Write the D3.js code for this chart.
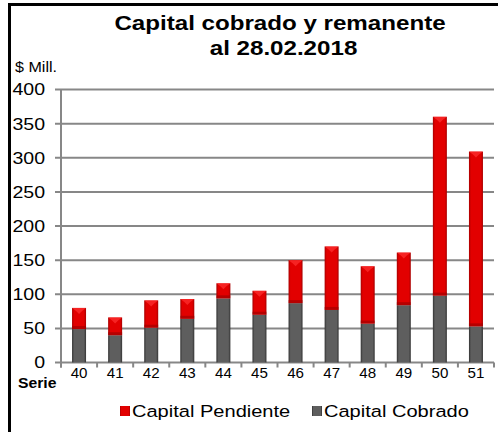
<!DOCTYPE html>
<html>
<head>
<meta charset="utf-8">
<script src="https://cdn.jsdelivr.net/npm/d3@7"></script>
<style>
  body { margin: 0; background: #fff; }
  svg { display: block; font-family: Arial, "Liberation Sans", sans-serif; }
</style>
</head>
<body>
<svg id="chart" width="498" height="432"></svg>
<script>
// Series 40..51, values in $ millions
const series = ["40", "41", "42", "43", "44", "45", "46", "47", "48", "49", "50", "51"];
const cobrado = [49, 40, 51, 64, 94, 70, 87, 77, 57, 84, 98, 53];
const pendiente = [31, 26, 40, 29, 22, 35, 63, 93, 84, 77, 262, 256];
const yTicks = [0, 50, 100, 150, 200, 250, 300, 350, 400];
const legendLabels = ["Capital Pendiente", "Capital Cobrado"];

const svg = d3.select("#chart");
const plotLeft = 61, plotRight = 494, plotTop = 89.5, plotBottom = 362.5;
const sx = 1.15; // the original text looks a bit wider than tall

// text placed at (x, y) and stretched horizontally
function label(parent, x, y, txt, size, opts = {}) {
  return parent.append("text")
    .attr("transform", `translate(${x},${y}) scale(${opts.sx || sx},1)`)
    .attr("text-anchor", opts.anchor || "start")
    .attr("font-size", size)
    .attr("font-weight", opts.bold ? "bold" : "normal")
    .text(txt);
}

// outer frame (only top and left edges visible)
svg.append("rect")
  .attr("x", 9.5).attr("y", 4.5)
  .attr("width", 600).attr("height", 600)
  .attr("fill", "none").attr("stroke", "#000").attr("stroke-width", 3);

// gradients for the bevelled bars
const defs = svg.append("defs");
function barGradient(id, edge, mid) {
  const g = defs.append("linearGradient").attr("id", id)
    .attr("x1", "0%").attr("x2", "100%").attr("y1", "0%").attr("y2", "0%");
  g.append("stop").attr("offset", "0%").attr("stop-color", edge);
  g.append("stop").attr("offset", "15%").attr("stop-color", mid);
  g.append("stop").attr("offset", "85%").attr("stop-color", mid);
  g.append("stop").attr("offset", "100%").attr("stop-color", edge);
}
barGradient("gradRed", "#a80000", "#e20000");
barGradient("gradGray", "#333333", "#5e5e5e");

// Title
label(svg, 280, 30, "Capital cobrado y remanente", 21, { anchor: "middle", bold: true });
label(svg, 283.5, 55, "al 28.02.2018", 21, { anchor: "middle", bold: true });
label(svg, 15, 72, "$ Mill.", 14);

// scales
const x = d3.scaleBand().domain(series).range([plotLeft, plotRight]).padding(0);
const y = d3.scaleLinear().domain([0, 400]).range([plotBottom, plotTop]);

// gridlines
svg.append("g")
  .selectAll("line")
  .data(yTicks)
  .join("line")
  .attr("x1", plotLeft - 6).attr("x2", plotRight)
  .attr("y1", d => y(d)).attr("y2", d => y(d))
  .attr("stroke", "#878787").attr("stroke-width", 2);

// y axis labels
const yAxis = d3.axisLeft(y).tickValues(yTicks).tickSize(0).tickPadding(0);
svg.append("g")
  .attr("transform", `translate(${plotLeft - 16},0)`)
  .call(yAxis)
  .call(g => g.select(".domain").remove())
  .selectAll("text")
  .attr("x", 0)
  .attr("transform", `scale(${sx},1)`)
  .attr("font-size", 17).attr("fill", "#000")
  .attr("font-family", "Arial, 'Liberation Sans', sans-serif");

// vertical axis line
svg.append("line")
  .attr("x1", plotLeft).attr("x2", plotLeft)
  .attr("y1", plotTop).attr("y2", plotBottom + 5)
  .attr("stroke", "#878787").attr("stroke-width", 2);

// x axis ticks at band edges
const edges = series.map(s => x(s)).concat([plotRight]);
svg.append("g")
  .selectAll("line")
  .data(edges)
  .join("line")
  .attr("x1", d => d).attr("x2", d => d)
  .attr("y1", plotBottom).attr("y2", plotBottom + 5)
  .attr("stroke", "#878787").attr("stroke-width", 2);

// x labels
const xAxis = d3.axisBottom(x).tickSize(0).tickPadding(0);
svg.append("g")
  .attr("transform", `translate(0,${plotBottom + 3})`)
  .call(xAxis)
  .call(g => g.select(".domain").remove())
  .selectAll("text")
  .attr("transform", "scale(1.08,1)")
  .attr("font-size", 14).attr("fill", "#000").attr("dy", "0.9em")
  .attr("font-family", "Arial, 'Liberation Sans', sans-serif");

label(svg, 18, 388, "Serie", 15, { bold: true, sx: 1.05 });

// stacked bars
const barW = 14;
const data = series.map((s, i) => ({ s, c: cobrado[i], p: pendiente[i] }));
const bars = svg.append("g");

bars.selectAll("rect.cob")
  .data(data)
  .join("rect")
  .attr("class", "cob")
  .attr("x", d => x(d.s) + x.bandwidth() / 2 - barW / 2)
  .attr("width", barW)
  .attr("y", d => y(d.c))
  .attr("height", d => y(0) - y(d.c))
  .attr("fill", "url(#gradGray)");

bars.selectAll("rect.pen")
  .data(data)
  .join("rect")
  .attr("class", "pen")
  .attr("x", d => x(d.s) + x.bandwidth() / 2 - barW / 2)
  .attr("width", barW)
  .attr("y", d => y(d.c + d.p))
  .attr("height", d => y(d.c) - y(d.c + d.p))
  .attr("fill", "url(#gradRed)");

// bevel highlights on tops of the red bars
bars.selectAll("path.bevel")
  .data(data)
  .join("path")
  .attr("class", "bevel")
  .attr("d", d => {
    const cx = x(d.s) + x.bandwidth() / 2;
    const ty = y(d.c + d.p);
    return `M${cx - barW / 2},${ty} L${cx + barW / 2},${ty} L${cx + 3},${ty + 3} L${cx},${ty + 6} L${cx - 3},${ty + 3} Z`;
  })
  .attr("fill", "#ff3030").attr("opacity", 0.7);

// darker shading at the seam between the two parts
bars.selectAll("rect.seam")
  .data(data)
  .join("rect")
  .attr("class", "seam")
  .attr("x", d => x(d.s) + x.bandwidth() / 2 - barW / 2)
  .attr("width", barW)
  .attr("y", d => y(d.c) - 3)
  .attr("height", 3)
  .attr("fill", "#9a0000").attr("opacity", 0.6);

// legend
const legend = svg.append("g").attr("transform", "translate(0,412)");
const legendColors = ["url(#gradRed)", "url(#gradGray)"];
const legendX = [120, 312];
legendLabels.forEach((lab, i) => {
  legend.append("rect")
    .attr("x", legendX[i]).attr("y", -6)
    .attr("width", 10).attr("height", 10)
    .attr("fill", legendColors[i]);
  label(legend, legendX[i] + 12, 5, lab, 17, { sx: 1.18 });
});
</script>
</body>
</html>
